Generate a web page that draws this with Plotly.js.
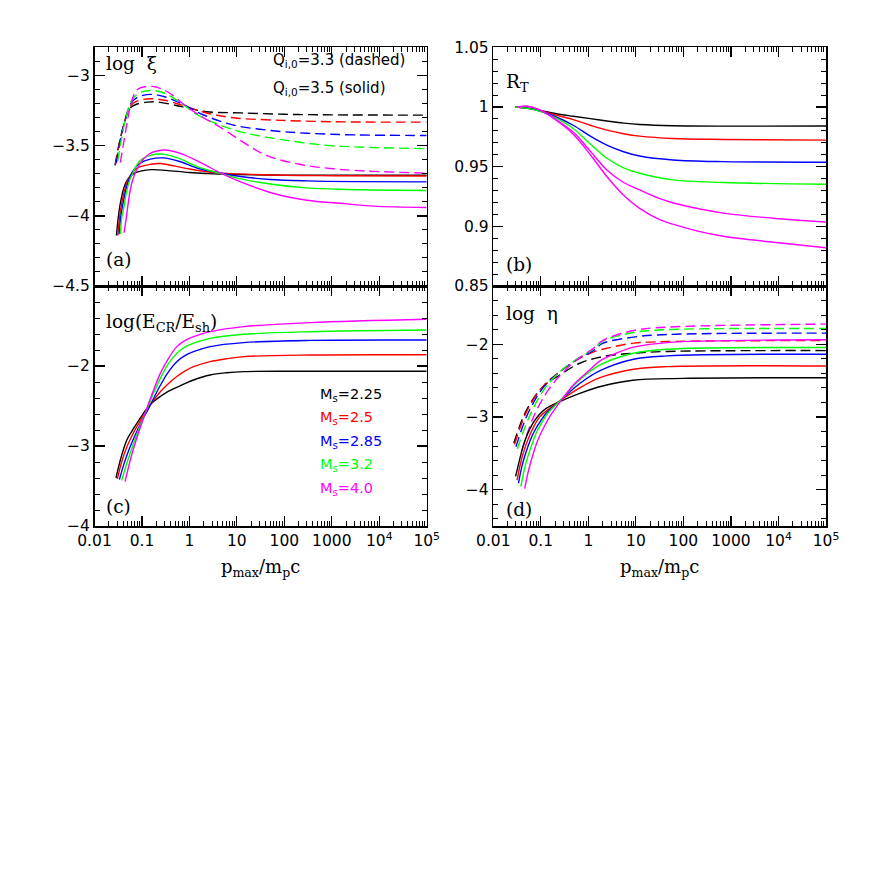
<!DOCTYPE html>
<html>
<head>
<meta charset="utf-8">
<script src="https://cdn.plot.ly/plotly-3.0.1.min.js"></script>
<style>html,body{margin:0;padding:0;background:#fff}#plot{width:872px;height:872px}</style>
</head>
<body>
<div id="plot"></div>
<script>
// ---------------- DATA ----------------
const machLabels = ["2.25", "2.5", "2.85", "3.2", "4.0"];
const colors = ["#000000", "#ff0000", "#0000ff", "#00ff00", "#ff00ff"];

// Panel (a): log xi, Q=3.5 (solid)
const a_sol_x = [
  [0.029, 0.032, 0.035, 0.042, 0.05, 0.058, 0.075, 0.093, 0.16, 0.32, 1, 3.2, 10, 100, 1e5],
  [0.031, 0.034, 0.037, 0.044, 0.052, 0.06, 0.075, 0.09, 0.15, 0.24, 0.5, 1, 3.2, 10, 100, 1000, 1e5],
  [0.033, 0.036, 0.039, 0.046, 0.054, 0.062, 0.075, 0.09, 0.15, 0.28, 0.6, 1.5, 3.8, 12, 50, 300, 3000, 1e5],
  [0.035, 0.038, 0.041, 0.048, 0.056, 0.065, 0.08, 0.1, 0.15, 0.28, 0.6, 1.5, 3.8, 12, 60, 300, 1500, 1e5],
  [0.042, 0.046, 0.049, 0.057, 0.065, 0.074, 0.09, 0.11, 0.14, 0.18, 0.3, 0.66, 1.74, 4.6, 12, 60, 300, 1500, 7600, 1e5]
];
const a_sol_y = [
  [-4.14, -4.0, -3.91, -3.795, -3.74, -3.715, -3.69, -3.68, -3.67, -3.675, -3.69, -3.70, -3.705, -3.71, -3.71],
  [-4.14, -4.0, -3.92, -3.80, -3.735, -3.70, -3.665, -3.65, -3.632, -3.626, -3.645, -3.665, -3.69, -3.70, -3.71, -3.713, -3.715],
  [-4.13, -4.0, -3.93, -3.81, -3.735, -3.69, -3.65, -3.625, -3.595, -3.586, -3.61, -3.66, -3.69, -3.719, -3.74, -3.75, -3.755, -3.757],
  [-4.13, -4.0, -3.95, -3.82, -3.74, -3.69, -3.63, -3.595, -3.568, -3.559, -3.59, -3.65, -3.69, -3.736, -3.776, -3.80, -3.81, -3.819],
  [-4.12, -4.03, -3.96, -3.81, -3.735, -3.685, -3.63, -3.59, -3.56, -3.542, -3.53, -3.555, -3.62, -3.695, -3.757, -3.84, -3.888, -3.91, -3.93, -3.94]
];
// Panel (a): log xi, Q=3.3 (dashed)
const a_das_x = [
  [0.027, 0.033, 0.042, 0.054, 0.074, 0.13, 0.2, 0.5, 1, 2.3, 12, 100, 1000, 1e5],
  [0.028, 0.034, 0.043, 0.056, 0.08, 0.15, 0.3, 0.7, 2, 8.5, 60, 1000, 1e5],
  [0.029, 0.035, 0.044, 0.058, 0.085, 0.16, 0.3, 0.7, 2, 8.5, 50, 300, 3000, 1e5],
  [0.031, 0.037, 0.046, 0.06, 0.09, 0.16, 0.3, 0.7, 1.5, 3.8, 12, 60, 700, 5000, 1e5],
  [0.035, 0.042, 0.049, 0.058, 0.079, 0.166, 0.35, 0.9, 2.0, 4.6, 13, 43, 220, 1100, 5500, 1e5]
];
const a_das_y = [
  [-3.64, -3.486, -3.343, -3.236, -3.205, -3.188, -3.186, -3.21, -3.233, -3.257, -3.265, -3.275, -3.279, -3.281],
  [-3.63, -3.47, -3.33, -3.22, -3.18, -3.164, -3.175, -3.21, -3.26, -3.30, -3.316, -3.328, -3.331],
  [-3.62, -3.46, -3.32, -3.20, -3.15, -3.133, -3.15, -3.20, -3.28, -3.352, -3.39, -3.41, -3.422, -3.426],
  [-3.61, -3.45, -3.30, -3.18, -3.12, -3.105, -3.125, -3.20, -3.28, -3.343, -3.40, -3.447, -3.495, -3.51, -3.52],
  [-3.62, -3.46, -3.33, -3.21, -3.10, -3.076, -3.116, -3.224, -3.30, -3.37, -3.47, -3.57, -3.633, -3.664, -3.68, -3.695]
];

// Panel (b): R_T (six solid curves, two magenta)
const b_colors = ["#000000", "#ff0000", "#0000ff", "#00ff00", "#ff00ff", "#ff00ff"];
const b_x = [
  [0.029, 0.05, 0.095, 0.2, 0.48, 1.1, 2.45, 5.5, 12, 60, 1e5],
  [0.029, 0.05, 0.095, 0.2, 0.48, 1.1, 2.45, 5.5, 12, 60, 700, 1e5],
  [0.029, 0.05, 0.095, 0.2, 0.48, 1.1, 2.45, 5.5, 12, 60, 700, 1e5],
  [0.029, 0.05, 0.095, 0.2, 0.48, 1.1, 2.45, 5.5, 12, 60, 700, 1e5],
  [0.033, 0.05, 0.095, 0.2, 0.48, 1.1, 2.45, 5.5, 12, 30, 62, 690, 7800, 1e5],
  [0.033, 0.055, 0.095, 0.2, 0.48, 1.1, 2.45, 5.5, 12, 30, 62, 200, 690, 7800, 1e5]
];
const b_y = [
  [1.0, 0.9992, 0.9972, 0.9945, 0.9922, 0.9902, 0.9883, 0.9865, 0.9853, 0.9843, 0.984],
  [1.0, 0.999, 0.9968, 0.9935, 0.9894, 0.9847, 0.9806, 0.9776, 0.9756, 0.9736, 0.9728, 0.9722],
  [1.0, 0.999, 0.9966, 0.992, 0.9847, 0.9755, 0.968, 0.9625, 0.9589, 0.9556, 0.9542, 0.9537],
  [1.0, 0.999, 0.9965, 0.991, 0.982, 0.969, 0.957, 0.949, 0.9445, 0.9389, 0.9367, 0.9353],
  [1.0, 1.0007, 0.9975, 0.990, 0.979, 0.963, 0.9472, 0.9367, 0.9306, 0.9236, 0.9195, 0.9111, 0.9068, 0.9036],
  [1.0, 1.0005, 0.9975, 0.9895, 0.9772, 0.960, 0.9417, 0.926, 0.915, 0.906, 0.9016, 0.896, 0.8917, 0.8867, 0.882]
];

// Panel (c): log(E_CR/E_sh)
const c_x = [
  [0.0284, 0.036, 0.048, 0.062, 0.078, 0.1, 0.136, 0.18, 0.241, 0.35, 0.542, 0.8, 1.22, 2.73, 6, 13.8, 352, 1e5],
  [0.0303, 0.038, 0.048, 0.062, 0.078, 0.1, 0.136, 0.18, 0.241, 0.35, 0.542, 0.8, 1.22, 2.73, 6, 13.8, 352, 1e5],
  [0.0334, 0.042, 0.052, 0.065, 0.082, 0.105, 0.136, 0.18, 0.241, 0.35, 0.542, 0.8, 1.22, 2.73, 13.8, 352, 1e5],
  [0.0374, 0.05, 0.065, 0.085, 0.11, 0.136, 0.18, 0.241, 0.35, 0.542, 0.8, 1.22, 2.73, 13.8, 352, 1e5],
  [0.044, 0.06, 0.078, 0.1, 0.136, 0.18, 0.241, 0.35, 0.542, 0.8, 1.22, 2.73, 13.8, 352, 1e5]
];
const c_y = [
  [-3.40, -3.15, -2.925, -2.81, -2.717, -2.62, -2.508, -2.44, -2.383, -2.32, -2.267, -2.22, -2.175, -2.113, -2.085, -2.07, -2.066, -2.065],
  [-3.41, -3.184, -3.012, -2.868, -2.758, -2.65, -2.523, -2.419, -2.324, -2.227, -2.132, -2.064, -2.009, -1.946, -1.91, -1.883, -1.8625, -1.86],
  [-3.42, -3.22, -3.062, -2.921, -2.79, -2.662, -2.539, -2.393, -2.247, -2.085, -1.946, -1.87, -1.821, -1.758, -1.708, -1.68, -1.675],
  [-3.43, -3.184, -2.984, -2.798, -2.63, -2.497, -2.326, -2.161, -1.983, -1.84, -1.764, -1.715, -1.654, -1.604, -1.571, -1.55],
  [-3.446, -3.122, -2.90, -2.706, -2.478, -2.283, -2.099, -1.921, -1.758, -1.682, -1.633, -1.571, -1.508, -1.458, -1.416]
];

// Panel (d): log eta, solid
const d_sol_x = [
  [0.0295, 0.036, 0.042, 0.052, 0.068, 0.095, 0.13, 0.25, 0.66, 2.0, 8.7, 100, 1e5],
  [0.0316, 0.038, 0.045, 0.056, 0.07, 0.095, 0.13, 0.25, 0.66, 1.76, 8.9, 45, 1e5],
  [0.0339, 0.04, 0.048, 0.06, 0.074, 0.1, 0.13, 0.25, 0.66, 1.76, 8.9, 45, 1e5],
  [0.038, 0.045, 0.053, 0.065, 0.08, 0.1, 0.14, 0.25, 0.66, 1.76, 8.9, 45, 1e5],
  [0.0457, 0.055, 0.068, 0.085, 0.11, 0.16, 0.25, 0.5, 1.0, 1.76, 4, 8.9, 45, 1e5]
];
const d_sol_y = [
  [-3.817, -3.58, -3.412, -3.24, -3.09, -2.96, -2.883, -2.79, -2.676, -2.575, -2.495, -2.47, -2.462],
  [-3.87, -3.62, -3.45, -3.28, -3.14, -3.00, -2.92, -2.78, -2.60, -2.46, -2.345, -2.309, -2.30],
  [-3.91, -3.68, -3.50, -3.32, -3.19, -3.05, -2.95, -2.78, -2.54, -2.364, -2.207, -2.161, -2.138],
  [-3.96, -3.72, -3.55, -3.38, -3.22, -3.10, -2.95, -2.78, -2.49, -2.286, -2.125, -2.07, -2.046],
  [-3.987, -3.74, -3.52, -3.33, -3.17, -2.98, -2.80, -2.55, -2.37, -2.23, -2.12, -2.04, -1.978, -1.94]
];
// Panel (d): log eta, dashed
const d_das_x = [
  [0.027, 0.05, 0.111, 0.25, 0.66, 2.0, 8.9, 45, 1e5],
  [0.028, 0.05, 0.111, 0.25, 0.56, 1.26, 2.5, 8.9, 45, 1e5],
  [0.03, 0.053, 0.111, 0.25, 0.56, 1.26, 2.0, 8.9, 45, 1e5],
  [0.032, 0.057, 0.118, 0.25, 0.56, 1.26, 2.0, 8.9, 45, 1e5],
  [0.04, 0.07, 0.14, 0.28, 0.56, 1.26, 2.0, 8.9, 45, 1e5]
];
const d_das_y = [
  [-3.36, -2.906, -2.585, -2.424, -2.262, -2.171, -2.125, -2.10, -2.088],
  [-3.38, -2.93, -2.58, -2.38, -2.22, -2.11, -2.055, -1.986, -1.964, -1.95],
  [-3.41, -2.96, -2.60, -2.38, -2.217, -2.09, -1.99, -1.903, -1.867, -1.848],
  [-3.44, -3.00, -2.62, -2.38, -2.21, -2.07, -1.96, -1.84, -1.80, -1.785],
  [-3.46, -3.00, -2.64, -2.40, -2.22, -2.06, -1.95, -1.812, -1.766, -1.724]
];

const xTickVals = [0.01, 0.1, 1, 10, 100, 1000, 1e4, 1e5];
const xTickText = ["0.01", "0.1", "1", "10", "100", "1000", "10<sup>4</sup>", "10<sup>5</sup>"];

// ---------------- TRACES ----------------
const traces = [];
function addSet(xs, ys, cols, xa, ya, dash) {
  for (let i = 0; i < xs.length; i++) {
    traces.push({
      x: xs[i], y: ys[i], xaxis: xa, yaxis: ya, mode: "lines", type: "scatter",
      line: { color: cols[i], width: 1.4, dash: dash, shape: "spline", smoothing: 1.0 },
      showlegend: false, hoverinfo: "skip"
    });
  }
}
addSet(a_das_x, a_das_y, colors, "x", "y", "10px,5px");
addSet(a_sol_x, a_sol_y, colors, "x", "y", "solid");
addSet(b_x, b_y, b_colors, "x2", "y2", "solid");
addSet(c_x, c_y, colors, "x3", "y3", "solid");
addSet(d_das_x, d_das_y, colors, "x4", "y4", "10px,5px");
addSet(d_sol_x, d_sol_y, colors, "x4", "y4", "solid");

// ---------------- LAYOUT ----------------
const W = 872, H = 872;
const xdL = [94.5 / W, 426.7 / W], xdR = [493.3 / W, 826 / W];
const ydT = [(H - 286) / H, (H - 47.3) / H], ydB = [(H - 526) / H, (H - 286) / H];

const minorX = [];
for (let e = -2; e < 5; e++) for (let m = 2; m <= 9; m++) minorX.push(m * Math.pow(10, e));

const tickFont = { family: "DejaVu Sans", size: 15.5, color: "#000" };
function xAxis(dom, anchor, labels) {
  return {
    domain: dom, anchor: anchor, type: "log", range: [-2, 5],
    tickmode: "array", tickvals: xTickVals, ticktext: xTickText, showticklabels: labels,
    ticks: "inside", ticklen: 10, tickwidth: 1.2, tickcolor: "#000",
    showline: true, linecolor: "#000", linewidth: 1.5, mirror: "allticks",
    showgrid: false, zeroline: false, tickfont: tickFont, automargin: false,
    minor: { tickmode: "array", tickvals: minorX, ticks: "inside", ticklen: 5, tickwidth: 1, tickcolor: "#000", showgrid: false }
  };
}
function yAxis(dom, anchor, range, vals, text, mdt) {
  return {
    domain: dom, anchor: anchor, range: range,
    tickmode: "array", tickvals: vals, ticktext: text,
    ticks: "inside", ticklen: 10, tickwidth: 1.2, tickcolor: "#000",
    showline: true, linecolor: "#000", linewidth: 1.5, mirror: "allticks",
    showgrid: false, zeroline: false, tickfont: tickFont, automargin: false,
    minor: { dtick: mdt, tick0: 0, ticks: "inside", ticklen: 5, tickwidth: 1, tickcolor: "#000", showgrid: false }
  };
}
const xTitle = { text: "p<sub>max</sub>/m<sub>p</sub>c", font: { family: "DejaVu Serif", size: 18, color: "#000" }, standoff: 11 };

const serif = { family: "DejaVu Serif", size: 18.5, color: "#000" };
const sans = { family: "DejaVu Sans", size: 15, color: "#000" };
function ann(xr, yr, x, y, text, font) {
  return { xref: xr + " domain", yref: yr + " domain", x: x, y: y, text: text, showarrow: false,
           xanchor: "left", yanchor: "middle", font: font };
}
const annotations = [
  ann("x", "y", 0.03, 0.932, "log  ξ", serif),
  ann("x", "y", 0.03, 0.109, "(a)", serif),
  ann("x", "y", 0.53, 0.946, "Q<sub>i,0</sub>=3.3 (dashed)", sans),
  ann("x", "y", 0.53, 0.827, "Q<sub>i,0</sub>=3.5 (solid)", sans),
  ann("x2", "y2", 0.033, 0.851, "R<sub>T</sub>", serif),
  ann("x2", "y2", 0.033, 0.088, "(b)", serif),
  ann("x3", "y3", 0.03, 0.846, "log(E<sub>CR</sub>/E<sub>sh</sub>)", serif),
  ann("x3", "y3", 0.03, 0.08, "(c)", serif),
  ann("x4", "y4", 0.033, 0.886, "log  η", serif),
  ann("x4", "y4", 0.033, 0.067, "(d)", serif)
];
const legY = [0.546, 0.449, 0.349, 0.254, 0.153];
for (let i = 0; i < machLabels.length; i++) {
  annotations.push(ann("x3", "y3", 0.674, legY[i], "M<sub>s</sub>=" + machLabels[i],
    { family: "DejaVu Sans", size: 14.5, color: colors[i] }));
}

const layout = {
  width: W, height: H, margin: { l: 0, r: 0, t: 0, b: 0 },
  paper_bgcolor: "#fff", plot_bgcolor: "rgba(0,0,0,0)", showlegend: false,
  xaxis: xAxis(xdL, "y", false),
  xaxis2: xAxis(xdR, "y2", false),
  xaxis3: Object.assign(xAxis(xdL, "y3", true), { title: xTitle }),
  xaxis4: Object.assign(xAxis(xdR, "y4", true), { title: xTitle }),
  yaxis: yAxis(ydT, "x", [-4.5, -2.797], [-4.5, -4, -3.5, -3], ["−4.5", "−4", "−3.5", "−3"], 0.1),
  yaxis2: yAxis(ydT, "x2", [0.85, 1.05], [0.85, 0.9, 0.95, 1, 1.05], ["0.85", "0.9", "0.95", "1", "1.05"], 0.01),
  yaxis3: yAxis(ydB, "x3", [-4, -1], [-4, -3, -2], ["−4", "−3", "−2"], 0.2),
  yaxis4: yAxis(ydB, "x4", [-4.5, -1.2], [-4, -3, -2], ["−4", "−3", "−2"], 0.2),
  annotations: annotations
};

Plotly.newPlot("plot", traces, layout, { staticPlot: true, displayModeBar: false });
</script>
</body>
</html>
